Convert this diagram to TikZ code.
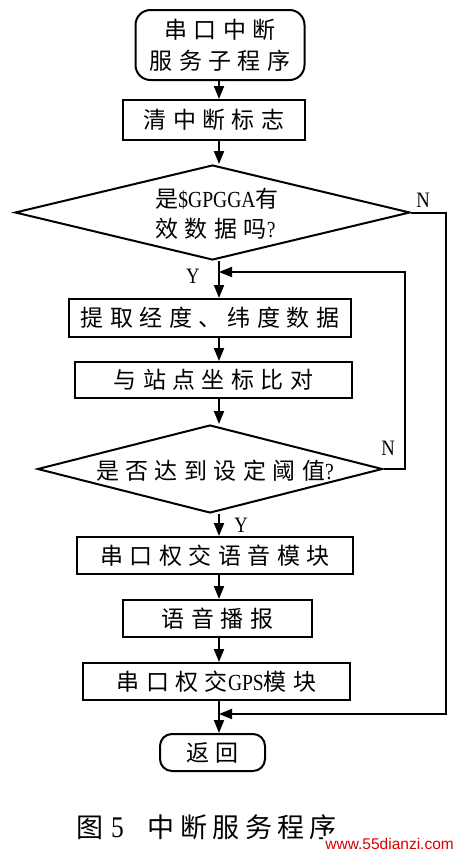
\documentclass[tikz,border=0pt]{standalone}
\usepackage{fontspec}
\newfontfamily\cjk[LetterSpace=28]{Noto Sans CJK SC}
\newfontfamily\cjkcap[LetterSpace=20]{Noto Sans CJK SC}
\newfontfamily\lat[FakeStretch=0.85]{Liberation Serif}
\newfontfamily\wm{Liberation Sans}
\usetikzlibrary{arrows.meta,shapes.geometric}
\tikzset{
  box/.style={draw, line width=2pt, inner sep=0pt, align=center,
    font=\cjk\fontsize{23}{31}\selectfont},
  term/.style={box, rounded corners=15pt},
  dec/.style={draw, diamond, line width=2pt, inner sep=0pt},
  dtext/.style={inner sep=0pt, font=\cjk\fontsize{23}{30}\selectfont},
  arr/.style={line width=2pt, -{Triangle[length=13pt,width=10pt]}},
  lbl/.style={font=\lat\fontsize{22}{22}\selectfont, inner sep=0pt}
}
\begin{document}
\begin{tikzpicture}[x=1pt,y=-1pt]
\useasboundingbox (0,0) rectangle (458,854);
\coordinate (X) at (219,0);
\coordinate (R1) at (446,0);
\coordinate (R2) at (405,0);
\coordinate (m1) at (219,272);
\coordinate (m2) at (219,714);

\node[term, minimum width=169pt, minimum height=70pt] (start) at (220,45)
  {串口中断\\服务子程序};
\node[box, minimum width=182pt, minimum height=40pt] (clr) at (214,120) {清中断标志};
\node[dec, minimum width=395pt, minimum height=95pt] (d1) at (212.5,212.5) {};
\node[dtext, align=left] (d1t) at (217,214)
  {是{\lat\fontsize{23}{30}\selectfont \$GPGGA}有\\效数据吗{\lat\fontsize{23}{30}\selectfont ?}};
\node[box, minimum width=282pt, minimum height=38pt] (ext) at (210,318) {提取经度、纬度数据};
\node[box, minimum width=277pt, minimum height=36pt] (cmp) at (213.5,380) {与站点坐标比对};
\node[dec, minimum width=345pt, minimum height=88pt] (d2) at (210,469) {};
\node[dtext] (d2t) at (215,471) {是否达到设定阈值{\lat\fontsize{23}{30}\selectfont ?}};
\node[box, minimum width=276pt, minimum height=37pt] (sw1) at (215,555.5) {串口权交语音模块};
\node[box, minimum width=189pt, minimum height=37pt] (spk) at (217.5,618.5) {语音播报};
\node[box, minimum width=267pt, minimum height=37pt] (sw2) at (216.5,681.5)
  {串口权交{\lat\fontsize{23}{30}\selectfont GPS}模块};
\node[term, rounded corners=12pt, minimum width=105pt, minimum height=37pt] (ret) at (212.5,752.5) {返回};

\draw[arr] (start.south -| X) -- (clr.north -| X);
\draw[arr] (clr.south -| X) -- (d1.north -| X);
\draw[arr] (d1.south -| X) -- (ext.north -| X);
\draw[arr] (ext.south -| X) -- (cmp.north -| X);
\draw[arr] (cmp.south -| X) -- (d2.north -| X);
\draw[arr] (d2.south -| X) -- (sw1.north -| X);
\draw[arr] (sw1.south -| X) -- (spk.north -| X);
\draw[arr] (spk.south -| X) -- (sw2.north -| X);
\draw[arr] (sw2.south -| X) -- (ret.north -| X);

\draw[arr, line join=miter] (d1.east) -- (d1.east -| R1) -- (R1 |- m2) -- (m2);
\draw[arr, line join=miter] (d2.east) -- (d2.east -| R2) -- (R2 |- m1) -- (m1);

\node[lbl] (n1) at (423,200) {N};
\node[lbl] (y1) at (193,276) {Y};
\node[lbl] (n2) at (388,448) {N};
\node[lbl] (y2) at (241,525) {Y};

\node[anchor=west, inner sep=0pt, font=\cjkcap\fontsize{27}{27}\selectfont] (cap) at (76,827)
  {图\hspace{8pt}{\lat\fontsize{30}{30}\selectfont 5}\hspace{24pt}中断服务程序};
\node[anchor=east, fill=white, inner sep=2pt, text=red!85!black,
  font=\wm\fontsize{15.5}{15.5}\selectfont] (wmk) at (456,844) {www.55dianzi.com};
\end{tikzpicture}
\end{document}
